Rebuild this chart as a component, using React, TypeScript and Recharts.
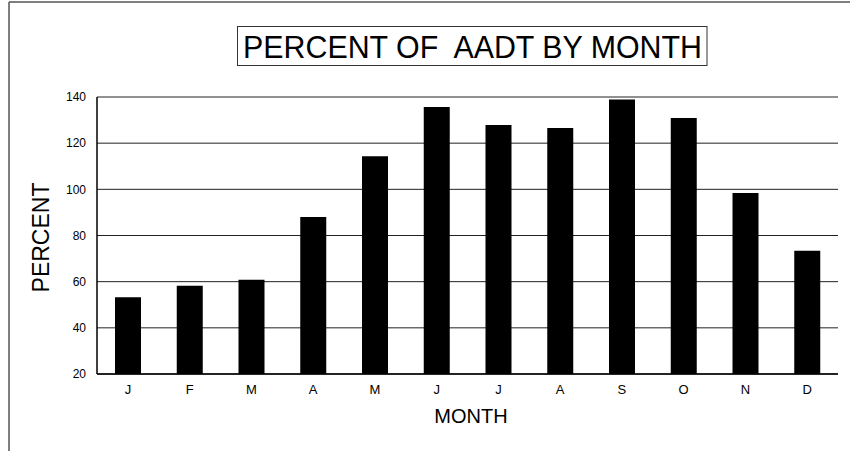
import { Bar, BarChart, CartesianGrid, XAxis, YAxis } from "recharts";

const months = ["J", "F", "M", "A", "M", "J", "J", "A", "S", "O", "N", "D"];
const percentOfAadt = [53.3, 58.2, 60.8, 88, 114.3, 135.7, 127.9, 126.6, 138.9, 130.9, 98.4, 73.4];
const yTicks = [20, 40, 60, 80, 100, 120, 140];

const data = months.map((m, i) => ({ key: `${m}${i}`, month: m, pct: percentOfAadt[i] }));

const font = "'Liberation Sans', Arial, sans-serif";

export default function App() {
  return (
    <div style={{ position: "relative", width: 850, height: 451, background: "#fff", fontFamily: font }}>
      <style>{`body{margin:0}`}</style>
      <BarChart
        width={850}
        height={451}
        data={data}
        margin={{ top: 97, right: 12, bottom: 47, left: 0 }}
        barSize={26}
      >
        <CartesianGrid yAxisId="left" horizontal vertical={false} stroke="#222" strokeWidth={1} />
        <XAxis
          dataKey="key"
          tickFormatter={(_v: string, i: number) => months[i]}
          height={30}
          tickLine={false}
          tickSize={0}
          tickMargin={11}
          axisLine={{ stroke: "#000", strokeWidth: 1.5 }}
          tick={{ fill: "#000", fontSize: 13, fontFamily: font }}
          interval={0}
        />
        <YAxis
          yAxisId="left"
          domain={[20, 140]}
          ticks={yTicks}
          allowDataOverflow
          width={97}
          tickLine={false}
          tickSize={0}
          tickMargin={11}
          axisLine={{ stroke: "#000", strokeWidth: 1.5 }}
          tick={{ fill: "#000", fontSize: 12, fontFamily: font }}
        />
        <YAxis
          yAxisId="right"
          orientation="right"
          domain={[20, 140]}
          width={0}
          tick={false}
          tickLine={false}
          axisLine={{ stroke: "#000", strokeWidth: 1.5 }}
        />
        <Bar yAxisId="left" dataKey="pct" fill="#000" isAnimationActive={false} />
      </BarChart>
      <svg
        width={850}
        height={451}
        style={{ position: "absolute", left: 0, top: 0, pointerEvents: "none" }}
      >
        <line x1={9} y1={2} x2={850} y2={2} stroke="#555" strokeWidth={1.5} />
        <line x1={9} y1={2} x2={9} y2={451} stroke="#555" strokeWidth={1.5} />
        <rect x={237.5} y={26.5} width={469.5} height={39} fill="#fff" stroke="#333" strokeWidth={1} />
        <text
          x={243}
          y={58}
          fontSize={31}
          fontFamily={font}
          fill="#000"
          textLength={459}
          lengthAdjust="spacingAndGlyphs"
          style={{ whiteSpace: "pre" }}
        >
          {"PERCENT OF  AADT BY MONTH"}
        </text>
        <text
          x={0}
          y={0}
          transform="translate(49 237.5) rotate(-90)"
          textAnchor="middle"
          fontSize={23}
          fontFamily={font}
          fill="#000"
        >
          PERCENT
        </text>
        <text x={471} y={423} textAnchor="middle" fontSize={20} fontFamily={font} fill="#000">
          MONTH
        </text>
      </svg>
    </div>
  );
}
